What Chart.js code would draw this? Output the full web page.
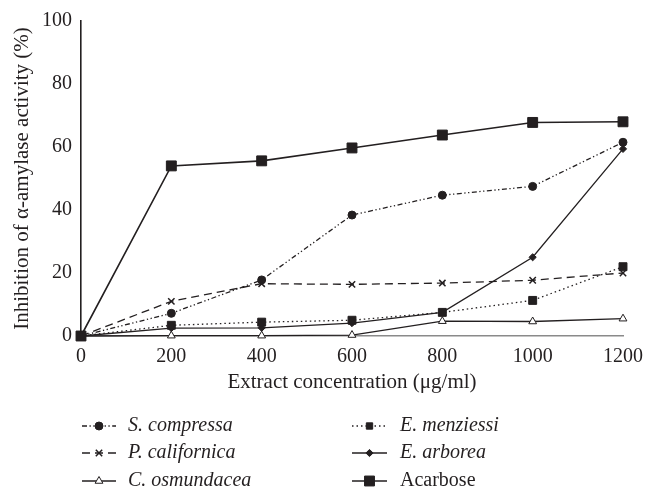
<!DOCTYPE html>
<html>
<head>
<meta charset="utf-8">
<script src="https://cdn.jsdelivr.net/npm/chart.js@4/dist/chart.umd.min.js"></script>
<style>
  html, body { margin: 0; padding: 0; background: #fff; }
  #wrap { width: 656px; height: 490px; position: relative; }
</style>
</head>
<body>
<div id="wrap"><canvas id="c" width="656" height="490"></canvas></div>
<script>
const concentrations = [0, 200, 400, 600, 800, 1000, 1200];
const sCompressa   = [0, 7.2, 17.8, 38.4, 44.7, 47.5, 61.5];
const eMenziessi   = [0, 3.4, 4.4, 5.0, 7.5, 11.3, 22.0];
const pCalifornica = [0, 11.0, 16.6, 16.4, 16.8, 17.7, 20.0];
const eArborea     = [0, 2.5, 2.6, 4.1, 7.5, 25.0, 59.4];
const cOsmundacea  = [0, 0.1, 0.1, 0.3, 4.7, 4.6, 5.5];
const acarbose     = [0, 54.0, 55.6, 59.7, 63.8, 67.8, 68.0];
const yTicks = [0, 20, 40, 60, 80, 100];
const xTicks = [0, 200, 400, 600, 800, 1000, 1200];

const INK = '#231f20';
const SERIF = '"Liberation Serif", "DejaVu Serif", serif';

function pts(vals) { return concentrations.map((x, i) => ({ x: x, y: vals[i] })); }

const series = [
  { label: 'S. compressa', italic: true, data: sCompressa, dash: [5, 2.5, 1.3, 2.5, 1.3, 2.5], style: 'circle', r: 4, fill: INK, col: 0, row: 0, order: 1 },
  { label: 'E. menziessi', italic: true, data: eMenziessi, dash: [1.5, 3], style: 'rect', r: 5.6, fill: INK, col: 1, row: 0, order: 2 },
  { label: 'P. californica', italic: true, data: pCalifornica, dash: [8, 5], style: 'crossRot', r: 4.5, fill: INK, col: 0, row: 1, order: 3 },
  { label: 'E. arborea', italic: true, data: eArborea, dash: [], style: 'rectRot', r: 3.6, fill: INK, col: 1, row: 1, order: 4 },
  { label: 'C. osmundacea', italic: true, data: cOsmundacea, dash: [], style: 'triangle', r: 4.5, fill: '#ffffff', col: 0, row: 2, order: 5 },
  { label: 'Acarbose', italic: false, data: acarbose, dash: [], style: 'rect', r: 7, fill: INK, col: 1, row: 2, order: 0 }
];

const datasets = series.map(s => ({
  label: s.label,
  data: pts(s.data),
  borderColor: INK,
  borderWidth: s.label === 'Acarbose' ? 1.6 : 1.3,
  borderDash: s.dash,
  pointStyle: s.style,
  pointRadius: s.r,
  pointHoverRadius: s.r,
  pointBackgroundColor: s.fill,
  pointBorderColor: INK,
  pointBorderWidth: s.style === 'crossRot' ? 1.5 : 1,
  tension: 0,
  fill: false,
  clip: false,
  order: s.order
}));

const legendPlugin = {
  id: 'customLegend',
  afterDraw(chart) {
    const ctx = chart.ctx;
    const cols = [{ x0: 82, x1: 116, tx: 128 }, { x0: 352, x1: 387, tx: 400 }];
    const rows = [426, 453, 481];
    series.forEach((s) => {
      const c = cols[s.col];
      const y = rows[s.row];
      ctx.save();
      ctx.strokeStyle = INK;
      ctx.lineWidth = 1.3;
      ctx.setLineDash(s.dash);
      ctx.beginPath();
      ctx.moveTo(c.x0, y);
      ctx.lineTo(c.x1, y);
      ctx.stroke();
      ctx.setLineDash([]);
      ctx.fillStyle = s.fill;
      ctx.strokeStyle = INK;
      ctx.lineWidth = s.style === 'crossRot' ? 1.5 : 1;
      const r = s.label === 'Acarbose' ? s.r : Math.min(s.r, 4.5);
      Chart.helpers.drawPoint(ctx, { pointStyle: s.style, radius: r, rotation: 0, borderWidth: ctx.lineWidth }, (c.x0 + c.x1) / 2, y);
      ctx.fillStyle = INK;
      ctx.font = (s.italic ? 'italic ' : '') + '20px ' + SERIF;
      ctx.textAlign = 'left';
      ctx.textBaseline = 'middle';
      ctx.fillText(s.label, c.tx, y);
      ctx.restore();
    });
  }
};

new Chart(document.getElementById('c'), {
  type: 'line',
  data: { datasets: datasets },
  plugins: [legendPlugin],
  options: {
    responsive: false,
    animation: false,
    events: [],
    layout: { padding: { top: 16, right: 33, bottom: 95, left: 0 } },
    plugins: { legend: { display: false }, tooltip: { enabled: false } },
    scales: {
      x: {
        type: 'linear',
        min: 0, max: 1200,
        afterBuildTicks(scale) { scale.ticks = xTicks.map(v => ({ value: v })); },
        afterFit(scale) { scale.height = 59; },
        grid: { display: false, drawTicks: false },
        border: { display: true, color: '#8a8a8a', width: 1.6 },
        ticks: { color: INK, font: { family: SERIF, size: 20 }, padding: 9, maxRotation: 0, callback: v => String(v) },
        title: { display: true, text: 'Extract concentration (μg/ml)', color: INK, font: { family: SERIF, size: 21 }, padding: { top: 0, bottom: 0 } }
      },
      y: {
        min: 0, max: 100,
        afterBuildTicks(scale) { scale.ticks = yTicks.map(v => ({ value: v })); },
        afterFit(scale) { scale.width = 81; },
        grid: { display: false, drawTicks: false },
        border: { display: true, color: INK, width: 1.6 },
        ticks: { color: INK, font: { family: SERIF, size: 20 }, padding: 9, callback: v => String(v) },
        title: { display: true, text: 'Inhibition of α-amylase activity (%)', color: INK, font: { family: SERIF, size: 21 }, padding: { top: 10, bottom: 0 } }
      }
    }
  }
});
</script>
</body>
</html>
